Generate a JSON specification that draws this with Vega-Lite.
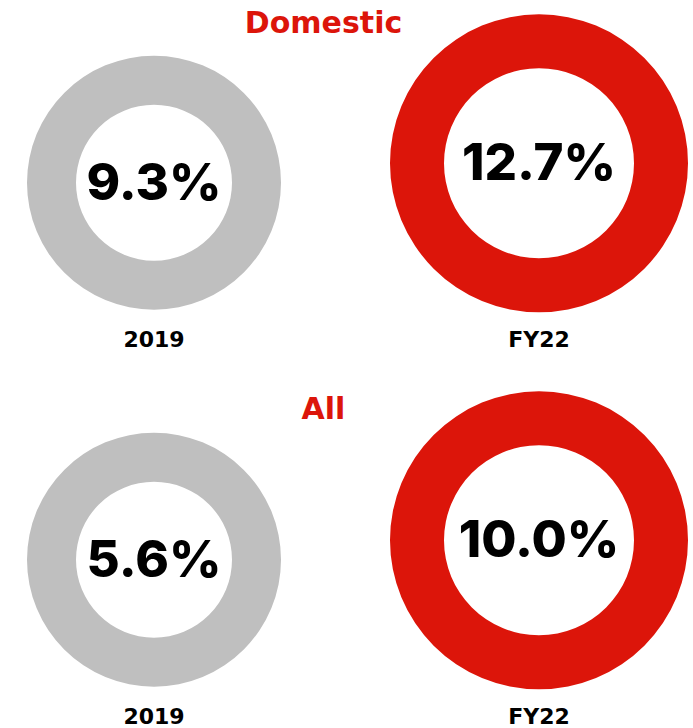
{
  "$schema": "https://vega.github.io/schema/vega-lite/v6.json",
  "width": 693,
  "height": 728,
  "autosize": {"type": "fit", "contains": "padding"},
  "padding": 0,
  "background": "white",
  "config": {"view": {"stroke": null}},
  "datasets": {
    "donuts": [
      {"group": "Domestic", "year": "2019", "value": 0.093},
      {"group": "Domestic", "year": "FY22", "value": 0.127},
      {"group": "All", "year": "2019", "value": 0.056},
      {"group": "All", "year": "FY22", "value": 0.1}
    ],
    "titles": [
      {"title": "Domestic"},
      {"title": "All"}
    ]
  },
  "data": {"name": "donuts"},
  "layer": [
    {
      "encoding": {
        "x": {"field": "year", "type": "nominal", "scale": {"type": "point", "domain": ["2019", "FY22"], "padding": 0.4}, "axis": null},
        "y": {"field": "group", "type": "nominal", "scale": {"type": "point", "domain": ["Domestic", "All"], "padding": 0.4642, "align": 0.522}, "axis": null}
      },
      "layer": [
        {
          "transform": [{"filter": "datum.year === '2019'"}],
          "mark": {"type": "arc", "theta": 0, "theta2": 6.2832, "innerRadius": 78, "outerRadius": 127, "color": "#BFBFBF"}
        },
        {
          "transform": [{"filter": "datum.year === '2019'"}],
          "mark": {"type": "text", "font": "Inter", "fontWeight": 800, "fontSize": 51, "baseline": "middle", "align": "center", "color": "#000000", "dy": 2},
          "encoding": {"text": {"field": "value", "type": "quantitative", "format": ".1%"}}
        },
        {
          "mark": {"type": "text", "font": "DejaVu Sans", "fontWeight": "bold", "fontSize": 22, "baseline": "middle", "align": "center", "color": "#000000", "dy": 157},
          "encoding": {"text": {"field": "year", "type": "nominal"}}
        }
      ]
    },
    {
      "encoding": {
        "x": {"field": "year", "type": "nominal", "scale": {"type": "point", "domain": ["2019", "FY22"], "padding": 0.4}, "axis": null},
        "y": {"field": "group", "type": "nominal", "scale": {"type": "point", "domain": ["Domestic", "All"], "padding": 0.4642, "align": 0.4665}, "axis": null}
      },
      "transform": [{"filter": "datum.year === 'FY22'"}],
      "layer": [
        {
          "mark": {"type": "arc", "theta": 0, "theta2": 6.2832, "innerRadius": 95, "outerRadius": 149, "color": "#DC150A"}
        },
        {
          "mark": {"type": "text", "font": "Inter", "fontWeight": 800, "fontSize": 51, "baseline": "middle", "align": "center", "color": "#000000", "dy": 2},
          "encoding": {"text": {"field": "value", "type": "quantitative", "format": ".1%"}}
        }
      ]
    },
    {
      "data": {"name": "titles"},
      "mark": {"type": "text", "font": "DejaVu Sans", "fontWeight": "bold", "fontSize": 30, "baseline": "middle", "align": "center", "color": "#DC150A", "dx": -23},
      "encoding": {
        "y": {"field": "title", "type": "nominal", "scale": {"type": "point", "domain": ["Domestic", "All"], "padding": 0.4418, "align": 0.0703}, "axis": null},
        "text": {"field": "title", "type": "nominal"}
      }
    }
  ],
  "resolve": {"scale": {"y": "independent"}}
}
